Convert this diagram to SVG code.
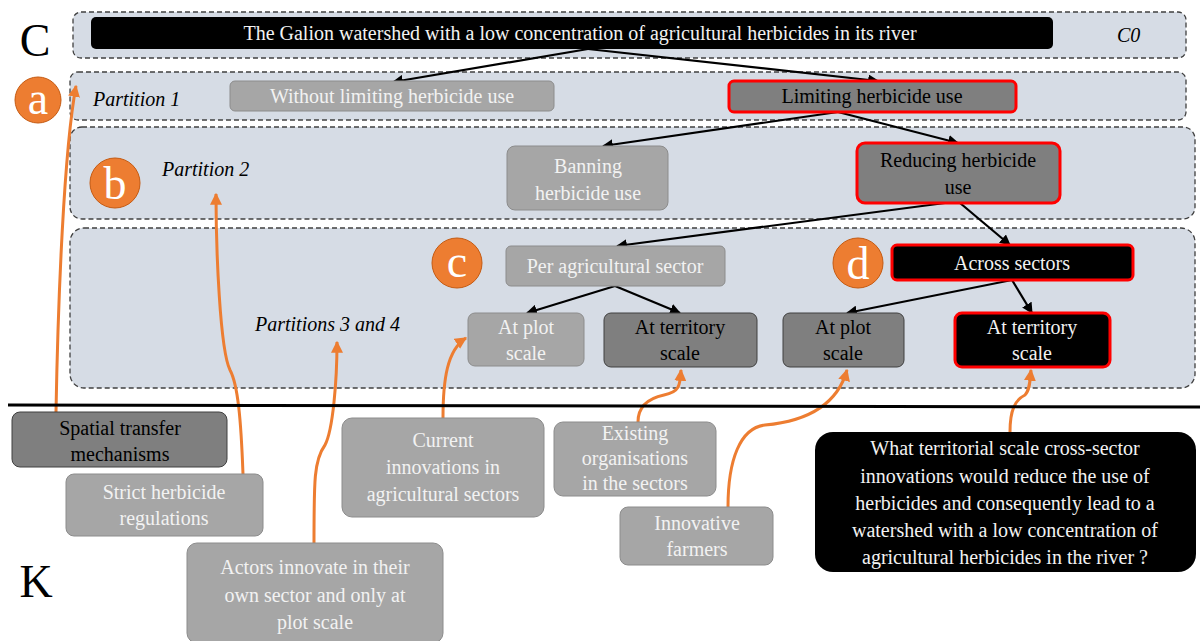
<svg xmlns="http://www.w3.org/2000/svg" width="1200" height="641" viewBox="0 0 1200 641">
<defs>
<marker id="ab" viewBox="0 0 10 10" refX="9" refY="5" markerWidth="5" markerHeight="5" orient="auto"><path d="M0,0 L10,5 L0,10 z" fill="#000"/></marker>
<marker id="ao" viewBox="0 0 10 10" refX="9" refY="5" markerWidth="4" markerHeight="4" orient="auto"><path d="M0,0 L10,5 L0,10 z" fill="#ed7d31"/></marker>
</defs>
<g id="bands" fill="#d6dce5" stroke="#404040" stroke-width="1.3" stroke-dasharray="5,3">
<rect x="73" y="12" width="1113" height="46" rx="8"/>
<rect x="70" y="72" width="1116" height="48" rx="8"/>
<rect x="70" y="127" width="1125" height="92" rx="12"/>
<rect x="70" y="228" width="1125" height="160" rx="14"/>
</g>
<g id="labels" text-anchor="start" font-style="italic" font-size="20">
<text font-family="Times New Roman, serif" font-style="normal" font-size="46" text-anchor="middle" x="35" y="56">C</text>
<text font-family="Times New Roman, serif" font-style="normal" font-size="46" text-anchor="middle" x="36" y="597">K</text>
<text font-family="Times New Roman, serif" x="1117" y="42">C0</text>
<text font-family="Times New Roman, serif" x="93" y="106">Partition 1</text>
<text font-family="Times New Roman, serif" x="162" y="176">Partition 2</text>
<text font-family="Times New Roman, serif" x="255" y="331">Partitions 3 and 4</text>
</g>
<g id="markers" font-size="46" fill="#fff" text-anchor="middle">
<g id="ma"><circle fill="#ed7d31" stroke="#c55a11" cx="38" cy="100" r="23"/><text font-family="Times New Roman, serif" x="38" y="114">a</text></g>
<g id="mb"><circle fill="#ed7d31" stroke="#c55a11" cx="115" cy="183" r="25"/><text font-family="Times New Roman, serif" x="115" y="199">b</text></g>
<g id="mc"><circle fill="#ed7d31" stroke="#c55a11" cx="457" cy="263" r="25"/><text font-family="Times New Roman, serif" x="457" y="277">c</text></g>
<g id="md"><circle fill="#ed7d31" stroke="#c55a11" cx="858" cy="263" r="25"/><text font-family="Times New Roman, serif" x="858" y="279">d</text></g>
</g>
<g id="connectors">
<g stroke="#000" stroke-width="2.2" fill="none" marker-end="url(#ab)">
<line x1="588" y1="49" x2="393" y2="82"/>
<line x1="588" y1="49" x2="878" y2="81"/>
<line x1="838" y1="112" x2="603" y2="146"/>
<line x1="838" y1="112" x2="958" y2="143"/>
<line x1="945" y1="203" x2="617" y2="246"/>
<line x1="960" y1="203" x2="1010" y2="245"/>
<line x1="615" y1="286" x2="527" y2="313"/>
<line x1="615" y1="286" x2="680" y2="313"/>
<line x1="1012" y1="280" x2="847" y2="313"/>
<line x1="1012" y1="280" x2="1032" y2="313"/>
</g>
<g stroke="#ed7d31" stroke-width="3" fill="none" marker-end="url(#ao)">
<path d="M56,412 C58,300 64,150 76,86"/>
<path d="M243,474 C241,420 238,385 230,370 C220,350 216,250 216,194"/>
<path d="M314,543 C314,480 314,460 325,445 C333,430 337,380 337,342"/>
<path d="M443,418 C443,380 447,350 466,338"/>
<path d="M638,422 C638,405 650,398 664,395 C680,392 680,385 681,370"/>
<path d="M728,507 C728,460 740,428 765,425 C820,420 840,395 847,370"/>
<path d="M1010,432 C1010,410 1015,400 1025,395 C1030,390 1030,380 1031,370"/>
</g>
<line x1="8" y1="405" x2="1200" y2="407" stroke="#000" stroke-width="3"/>
</g>
<g id="nodes" font-size="20" text-anchor="middle">
<g id="n0"><rect fill="#000" x="91" y="17" width="962" height="32" rx="5"/><text font-family="Times New Roman, serif" fill="#f2f2f2" x="580" y="40">The Galion watershed with a low concentration of agricultural herbicides in its river</text></g>
<g id="n1"><rect fill="#a6a6a6" stroke="#8c8c8c" x="230" y="81" width="324" height="30" rx="5"/><text font-family="Times New Roman, serif" fill="#f2f2f2" x="392" y="103">Without limiting herbicide use</text></g>
<g id="n2"><rect fill="#7f7f7f" stroke="#f00" stroke-width="3" x="729" y="81" width="287" height="31" rx="5"/><text font-family="Times New Roman, serif" x="872" y="103">Limiting herbicide use</text></g>
<g id="n3"><rect fill="#a6a6a6" stroke="#8c8c8c" x="507" y="146" width="161" height="64" rx="8"/><text font-family="Times New Roman, serif" fill="#f2f2f2" x="588" y="173">Banning</text><text font-family="Times New Roman, serif" fill="#f2f2f2" x="588" y="200">herbicide use</text></g>
<g id="n4"><rect fill="#7f7f7f" stroke="#f00" stroke-width="3" x="857" y="143" width="203" height="60" rx="8"/><text font-family="Times New Roman, serif" x="958" y="167">Reducing herbicide</text><text font-family="Times New Roman, serif" x="958" y="194">use</text></g>
<g id="n5"><rect fill="#a6a6a6" stroke="#8c8c8c" x="506" y="246" width="219" height="40" rx="5"/><text font-family="Times New Roman, serif" fill="#f2f2f2" x="615" y="273">Per agricultural sector</text></g>
<g id="n6"><rect fill="#000" stroke="#f00" stroke-width="3" x="892" y="245" width="241" height="35" rx="5"/><text font-family="Times New Roman, serif" fill="#f2f2f2" x="1012" y="270">Across sectors</text></g>
<g id="n7"><rect fill="#a6a6a6" stroke="#8c8c8c" x="468" y="313" width="116" height="53" rx="7"/><text font-family="Times New Roman, serif" fill="#f2f2f2" x="526" y="334">At plot</text><text font-family="Times New Roman, serif" fill="#f2f2f2" x="526" y="360">scale</text></g>
<g id="n8"><rect fill="#7f7f7f" stroke="#404040" x="604" y="313" width="153" height="54" rx="7"/><text font-family="Times New Roman, serif" x="680" y="334">At territory</text><text font-family="Times New Roman, serif" x="680" y="360">scale</text></g>
<g id="n9"><rect fill="#7f7f7f" stroke="#404040" x="783" y="313" width="121" height="54" rx="7"/><text font-family="Times New Roman, serif" x="843" y="334">At plot</text><text font-family="Times New Roman, serif" x="843" y="360">scale</text></g>
<g id="n10"><rect fill="#000" stroke="#f00" stroke-width="3" x="955" y="313" width="155" height="54" rx="7"/><text font-family="Times New Roman, serif" fill="#f2f2f2" x="1032" y="334">At territory</text><text font-family="Times New Roman, serif" fill="#f2f2f2" x="1032" y="360">scale</text></g>
<g id="k1"><rect fill="#7f7f7f" stroke="#404040" x="12" y="412" width="215" height="55" rx="8"/><text font-family="Times New Roman, serif" x="120" y="435">Spatial transfer</text><text font-family="Times New Roman, serif" x="120" y="461">mechanisms</text></g>
<g id="k2"><rect fill="#a6a6a6" stroke="#8c8c8c" x="66" y="474" width="197" height="62" rx="8"/><text font-family="Times New Roman, serif" fill="#f2f2f2" x="164" y="499">Strict herbicide</text><text font-family="Times New Roman, serif" fill="#f2f2f2" x="164" y="525">regulations</text></g>
<g id="k3"><rect fill="#a6a6a6" stroke="#8c8c8c" x="187" y="543" width="256" height="100" rx="10"/><text font-family="Times New Roman, serif" fill="#f2f2f2" x="315" y="574">Actors innovate in their</text><text font-family="Times New Roman, serif" fill="#f2f2f2" x="315" y="602">own sector and only at</text><text font-family="Times New Roman, serif" fill="#f2f2f2" x="315" y="629">plot scale</text></g>
<g id="k4"><rect fill="#a6a6a6" stroke="#8c8c8c" x="342" y="418" width="202" height="99" rx="10"/><text font-family="Times New Roman, serif" fill="#f2f2f2" x="443" y="447">Current</text><text font-family="Times New Roman, serif" fill="#f2f2f2" x="443" y="474">innovations in</text><text font-family="Times New Roman, serif" fill="#f2f2f2" x="443" y="501">agricultural sectors</text></g>
<g id="k5"><rect fill="#a6a6a6" stroke="#8c8c8c" x="554" y="422" width="162" height="74" rx="9"/><text font-family="Times New Roman, serif" fill="#f2f2f2" x="635" y="440">Existing</text><text font-family="Times New Roman, serif" fill="#f2f2f2" x="635" y="465">organisations</text><text font-family="Times New Roman, serif" fill="#f2f2f2" x="635" y="490">in the sectors</text></g>
<g id="k6"><rect fill="#a6a6a6" stroke="#8c8c8c" x="620" y="507" width="153" height="58" rx="8"/><text font-family="Times New Roman, serif" fill="#f2f2f2" x="697" y="530">Innovative</text><text font-family="Times New Roman, serif" fill="#f2f2f2" x="697" y="556">farmers</text></g>
<g id="k7"><rect fill="#000" x="815" y="432" width="381" height="140" rx="18"/><text font-family="Times New Roman, serif" fill="#f2f2f2" x="1005" y="455">What territorial scale cross-sector</text><text font-family="Times New Roman, serif" fill="#f2f2f2" x="1005" y="483">innovations would reduce the use of</text><text font-family="Times New Roman, serif" fill="#f2f2f2" x="1005" y="510">herbicides and consequently lead to a</text><text font-family="Times New Roman, serif" fill="#f2f2f2" x="1005" y="537">watershed with a low concentration of</text><text font-family="Times New Roman, serif" fill="#f2f2f2" x="1005" y="564">agricultural herbicides in the river ?</text></g>
</g>
</svg>
